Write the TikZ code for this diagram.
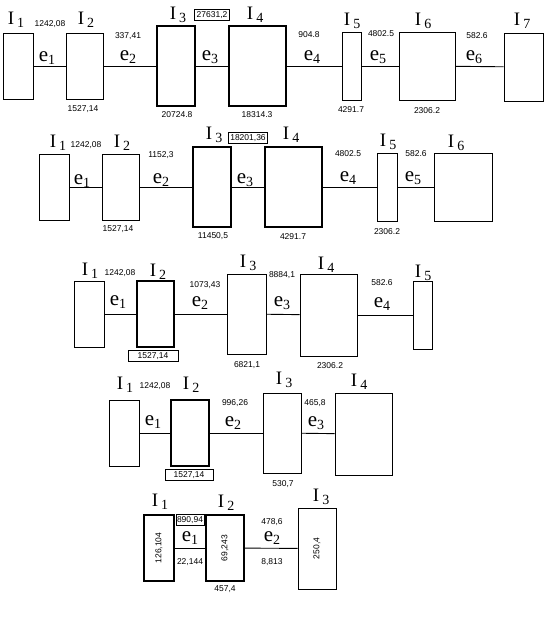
\documentclass[tikz,border=0pt]{standalone}
\usepackage{fontspec}
\setmainfont{Liberation Serif}
\newfontfamily\numfont{Liberation Sans}
\usetikzlibrary{positioning}
\newcommand{\Ilab}[1]{{\fontsize{19}{19}\selectfont I\,\raisebox{-3pt}{\fontsize{14}{14}\selectfont #1}}}
\newcommand{\elab}[1]{{\fontsize{21}{21}\selectfont e\raisebox{-3pt}{\fontsize{14}{14}\selectfont #1}}}

\begin{document}
\begin{tikzpicture}[x=1pt, y=-1pt,
  blk/.style={draw, line width=0.9pt, inner sep=0pt},
  thk/.style={blk, line width=2.4pt},
  lbl/.style={inner sep=0pt},
  num/.style={font=\numfont\fontsize{8.5}{9}\selectfont, inner sep=0pt},
  numbox/.style={num, draw, line width=0.7pt, inner xsep=2pt, inner ysep=2pt},
  link/.style={line width=0.9pt}]

  \useasboundingbox (0,0) rectangle (548,620);

  % row 1
  \node[blk, minimum width=30pt, minimum height=66pt] (a1) at (18,66) {};
  \node[blk, minimum width=37pt, minimum height=66pt] (a2) at (84.5,66) {};
  \node[thk, minimum width=38pt, minimum height=80pt] (a3) at (176,66) {};
  \node[thk, minimum width=57pt, minimum height=80pt] (a4) at (257.5,66) {};
  \node[blk, minimum width=19pt, minimum height=68pt] (a5) at (351.5,66) {};
  \node[blk, minimum width=56pt, minimum height=68pt] (a6) at (427,66) {};
  \node[blk, minimum width=39pt, minimum height=68pt] (a7) at (523.5,67) {};
  \foreach \i/\j in {a1/a2, a2/a3, a3/a4, a4/a5, a5/a6, a6/a7}
    \draw[link] (\i) -- (\j);
  \node[lbl] (la1) at (16,20) {\Ilab{1}};
  \node[lbl] (la2) at (86,20) {\Ilab{2}};
  \node[lbl] (la3) at (178,15) {\Ilab{3}};
  \node[lbl] (la4) at (255,15) {\Ilab{4}};
  \node[lbl] (la5) at (352,21) {\Ilab{5}};
  \node[lbl] (la6) at (423,21) {\Ilab{6}};
  \node[lbl] (la7) at (522,21) {\Ilab{7}};
  \node[lbl] (ea1) at (47,58) {\elab{1}};
  \node[lbl] (ea2) at (128,57) {\elab{2}};
  \node[lbl] (ea3) at (210,57) {\elab{3}};
  \node[lbl] (ea4) at (312,57) {\elab{4}};
  \node[lbl] (ea5) at (378,57) {\elab{5}};
  \node[lbl] (ea6) at (474,57) {\elab{6}};
  \node[num] at (50,24) {1242,08};
  \node[num] at (83,109) {1527,14};
  \node[num] at (128,36) {337,41};
  \node[numbox] (ta3) at (212,15) {27631,2};
  \node[num] at (177,115) {20724.8};
  \node[num] at (257,115) {18314.3};
  \node[num] at (309,35) {904.8};
  \node[num] at (351,110) {4291.7};
  \node[num] at (381,34) {4802.5};
  \node[num] at (427,111) {2306.2};
  \node[num] at (477,36) {582.6};

  % row 2
  \node[blk, minimum width=30pt, minimum height=66pt] (b1) at (54,187) {};
  \node[blk, minimum width=37pt, minimum height=66pt] (b2) at (120.5,187) {};
  \node[thk, minimum width=38pt, minimum height=80pt] (b3) at (212,187) {};
  \node[thk, minimum width=57pt, minimum height=80pt] (b4) at (293.5,187) {};
  \node[blk, minimum width=20pt, minimum height=68pt] (b5) at (387,187) {};
  \node[blk, minimum width=58pt, minimum height=68pt] (b6) at (463,187) {};
  \foreach \i/\j in {b1/b2, b2/b3, b3/b4, b4/b5, b5/b6}
    \draw[link] (\i) -- (\j);
  \node[lbl] (lb1) at (58,143) {\Ilab{1}};
  \node[lbl] (lb2) at (122,143) {\Ilab{2}};
  \node[lbl] (lb3) at (214,135) {\Ilab{3}};
  \node[lbl] (lb4) at (291,135) {\Ilab{4}};
  \node[lbl] (lb5) at (388,142) {\Ilab{5}};
  \node[lbl] (lb6) at (456,143) {\Ilab{6}};
  \node[lbl] (eb1) at (82,181) {\elab{1}};
  \node[lbl] (eb2) at (161,180) {\elab{2}};
  \node[lbl] (eb3) at (245,180) {\elab{3}};
  \node[lbl] (eb4) at (348,178) {\elab{4}};
  \node[lbl] (eb5) at (413,178) {\elab{5}};
  \node[num] at (86,145) {1242,08};
  \node[num] at (118,229) {1527,14};
  \node[num] at (161,155) {1152,3};
  \node[numbox] (tb3) at (248,138) {18201,36};
  \node[num] at (213,236) {11450,5};
  \node[num] at (293,237) {4291.7};
  \node[num] at (348,154) {4802.5};
  \node[num] at (387,232) {2306.2};
  \node[num] at (416,154) {582.6};

  % row 3
  \node[blk, minimum width=30pt, minimum height=66pt] (c1) at (89,314) {};
  \node[thk, minimum width=37pt, minimum height=66pt] (c2) at (155.5,314) {};
  \node[blk, minimum width=39pt, minimum height=80pt] (c3) at (246.5,314) {};
  \node[blk, minimum width=57pt, minimum height=82pt] (c4) at (328.5,315) {};
  \node[blk, minimum width=19pt, minimum height=68pt] (c5) at (422.5,315) {};
  \foreach \i/\j in {c1/c2, c2/c3, c3/c4, c4/c5}
    \draw[link] (\i) -- (\j);
  \node[lbl] (lc1) at (90,271) {\Ilab{1}};
  \node[lbl] (lc2) at (158,272) {\Ilab{2}};
  \node[lbl] (lc3) at (248,263) {\Ilab{3}};
  \node[lbl] (lc4) at (326,265) {\Ilab{4}};
  \node[lbl] (lc5) at (423,273) {\Ilab{5}};
  \node[lbl] (ec1) at (118,302) {\elab{1}};
  \node[lbl] (ec2) at (200,303) {\elab{2}};
  \node[lbl] (ec3) at (282,303) {\elab{3}};
  \node[lbl] (ec4) at (382,304) {\elab{4}};
  \node[num] at (120,273) {1242,08};
  \node[numbox, minimum width=50pt] (tc2) at (153,356) {1527,14};
  \node[num] at (205,285) {1073,43};
  \node[num] at (247,365) {6821,1};
  \node[num] at (282,275) {8884,1};
  \node[num] at (330,366) {2306.2};
  \node[num] at (382,283) {582.6};

  % row 4
  \node[blk, minimum width=30pt, minimum height=66pt] (d1) at (124,433) {};
  \node[thk, minimum width=38pt, minimum height=66pt] (d2) at (190,433) {};
  \node[blk, minimum width=38pt, minimum height=80pt] (d3) at (282,433) {};
  \node[blk, minimum width=57pt, minimum height=82pt] (d4) at (363.5,434) {};
  \foreach \i/\j in {d1/d2, d2/d3, d3/d4}
    \draw[link] (\i) -- (\j);
  \node[lbl] (ld1) at (125,385) {\Ilab{1}};
  \node[lbl] (ld2) at (191,385) {\Ilab{2}};
  \node[lbl] (ld3) at (284,380) {\Ilab{3}};
  \node[lbl] (ld4) at (359,382) {\Ilab{4}};
  \node[lbl] (ed1) at (153,422) {\elab{1}};
  \node[lbl] (ed2) at (233,423) {\elab{2}};
  \node[lbl] (ed3) at (316,423) {\elab{3}};
  \node[num] at (155,386) {1242,08};
  \node[numbox, minimum width=48pt] (td2) at (189,475) {1527,14};
  \node[num] at (235,403) {996,26};
  \node[num] at (315,403) {465,8};
  \node[num] at (283,484) {530,7};

  % row 5
  \node[thk, minimum width=30pt, minimum height=66pt] (f1) at (159,548) {};
  \node[thk, minimum width=38pt, minimum height=66pt] (f2) at (225,548) {};
  \node[blk, minimum width=38pt, minimum height=81pt] (f3) at (317,548.5) {};
  \foreach \i/\j in {f1/f2, f2/f3}
    \draw[link] (\i) -- (\j);
  \node[num, rotate=90] at (f1) {126,104};
  \node[num, rotate=90] at (f2) {69,243};
  \node[num, rotate=90] at (f3) {250,4};
  \node[lbl] (lf1) at (160,502) {\Ilab{1}};
  \node[lbl] (lf2) at (226,503) {\Ilab{2}};
  \node[lbl] (lf3) at (321,497) {\Ilab{3}};
  \node[lbl] (ef1) at (190,538) {\elab{1}};
  \node[lbl] (ef2) at (272,538) {\elab{2}};
  \node[numbox, inner xsep=1pt] (tf1) at (190,520) {890,94};
  \node[num] at (190,562) {22,144};
  \node[num] at (225,589) {457,4};
  \node[num] at (272,522) {478,6};
  \node[num] at (272,562) {8,813};
\end{tikzpicture}
\end{document}
